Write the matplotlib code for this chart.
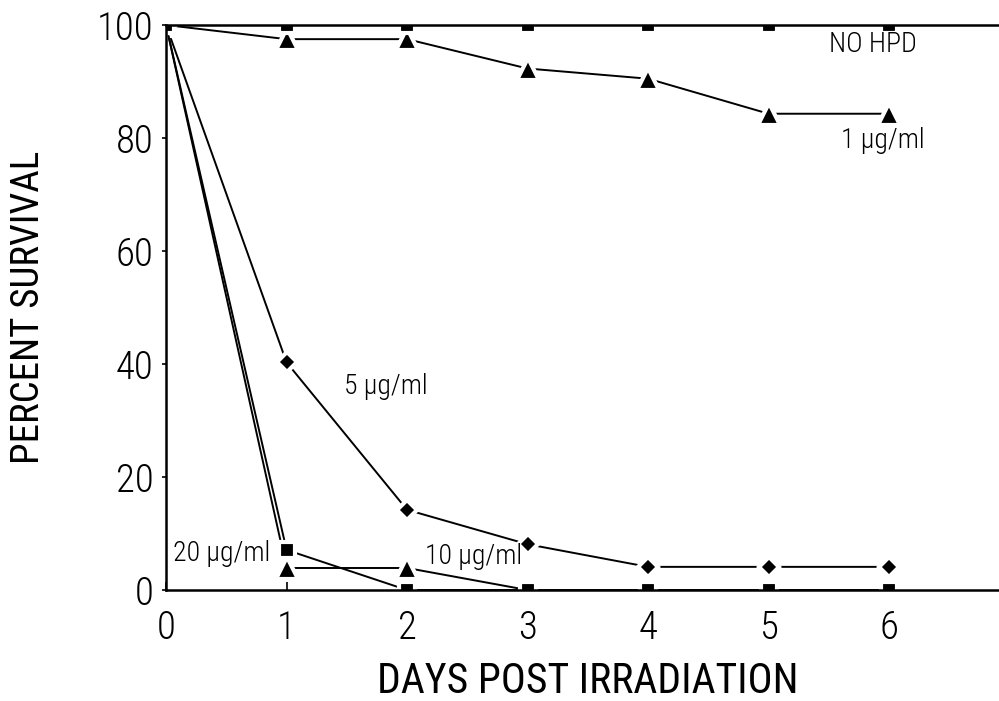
import matplotlib
matplotlib.use("Agg")
import matplotlib.pyplot as plt

plt.rcParams["font.family"] = ["Roboto Condensed", "DejaVu Sans"]
plt.rcParams["font.weight"] = "light"

## data
days = [0, 1, 2, 3, 4, 5, 6]
no_hpd = [100, 100, 100, 100, 100, 100, 100]
hpd_1 = [100, 97.5, 97.5, 92.3, 90.5, 84.3, 84.3]
hpd_5 = [100, 40.3, 14.2, 8.1, 4.1, 4.1, 4.1]
days_10 = [0, 1, 2, 3]
hpd_10 = [100, 3.9, 3.9, 0]
hpd_20 = [100, 7.1, 0, 0, 0, 0, 0]

labels = ["NO HPD", "1 µg/ml", "5 µg/ml", "10 µg/ml", "20 µg/ml"]
label_pos = [(5.87, 96.5), (5.95, 79.5), (1.82, 36.0), (2.55, 6.0), (0.46, 6.5)]

fig = plt.figure(figsize=(9.99, 7.01), dpi=100)
## right spine falls just outside the picture, like the cropped scan
ax = fig.add_axes([0.1662, 0.1583, 0.8444, 0.806])

style = dict(color="black", lw=1.4, mfc="black", mec="white", mew=3.0)
ax.plot(days, hpd_1, marker="^", ms=16, **style)
ax.plot(days, hpd_5, marker="D", ms=10, **style)
ax.plot(days_10, hpd_10, marker="^", ms=16, **style)
ax.plot(days, hpd_20, marker="s", ms=12, **style)
ax.plot(days, no_hpd, marker="s", ms=12, **style)

for text, (x, y) in zip(labels, label_pos):
    ax.text(x, y, text, fontsize=20, ha="center", va="center")

ax.set_xlim(0, 7)
ax.set_ylim(0, 100)
ax.set_xticks(range(0, 7))
ax.set_yticks(range(0, 101, 20))
ax.tick_params(axis="x", direction="in", length=6, width=1.2, labelsize=28, pad=14)
ax.tick_params(axis="y", direction="out", length=3, width=1.2, labelsize=28, pad=6)
for s in ax.spines.values():
    s.set_linewidth(1.8)

ax.set_xlabel("DAYS POST IRRADIATION", fontsize=30, labelpad=10)
ax.set_ylabel("PERCENT SURVIVAL", fontsize=28, labelpad=36)

fig.savefig("out.png", dpi=100)
